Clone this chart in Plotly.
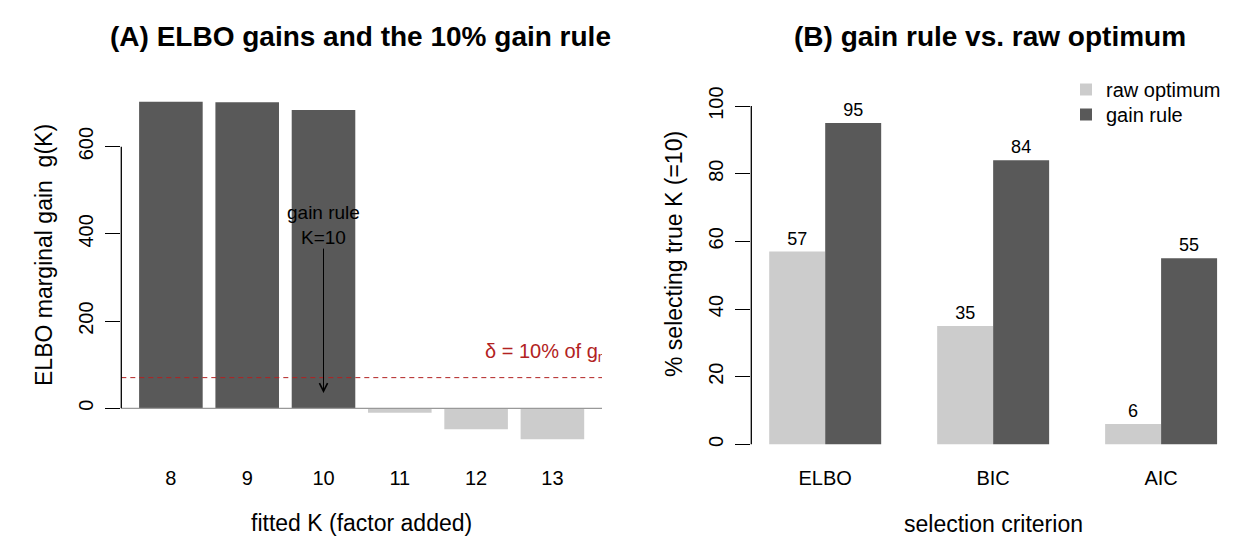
import plotly.graph_objects as go

# ---------------- data ----------------
K_values = [8, 9, 10, 11, 12, 13]
elbo_gain = [703, 702, 684, -10, -48, -71]
gain_rule_K = 10
arrow_from, arrow_to = 420, 35

criteria = ["ELBO", "BIC", "AIC"]
raw_optimum = [57, 35, 6]
gain_rule = [95, 84, 55]
series_names = ["raw optimum", "gain rule"]

# ---------------- styling ----------------
W, H = 1260, 560
FONT = "Liberation Sans, Arial, Helvetica, sans-serif"
DARK = "#595959"
LIGHT = "#CCCCCC"
RED = "#B22222"

def fx(p):
    return p / W

def fy(p):
    return 1 - p / H

delta = 0.1 * max(elbo_gain)

# bar positions (barplot style: width 1, space 0.2)
xa = [0.7 + 1.2 * i for i in range(len(K_values))]
colA = [DARK if g > delta else LIGHT for g in elbo_gain]
arrow_x = xa[K_values.index(gain_rule_K)]

# grouped (beside) bars, space c(0,1)
x_raw = [1.5 + 3 * i for i in range(len(criteria))]
x_gain = [2.5 + 3 * i for i in range(len(criteria))]
x_grp = [2 + 3 * i for i in range(len(criteria))]

fig = go.Figure()

fig.add_trace(go.Bar(x=xa, y=elbo_gain, width=1, marker=dict(color=colA, line=dict(width=0)),
                     xaxis="x", yaxis="y", showlegend=False, hoverinfo="skip"))

# delta label (clipped to plot region like the original)
fig.add_trace(go.Scatter(x=[5.64], y=[127], mode="text",
                         text=["δ = 10% of g<sub>max</sub>"], textposition="middle right",
                         textfont=dict(family=FONT, size=20, color=RED),
                         cliponaxis=True, xaxis="x", yaxis="y", showlegend=False, hoverinfo="skip"))

fig.add_trace(go.Bar(x=x_raw, y=raw_optimum, width=1, name=series_names[0],
                     marker=dict(color=LIGHT, line=dict(width=0)),
                     text=[str(v) for v in raw_optimum], textposition="outside",
                     textfont=dict(family=FONT, size=18, color="black"), cliponaxis=False,
                     xaxis="x2", yaxis="y2", hoverinfo="skip", legend="legend"))
fig.add_trace(go.Bar(x=x_gain, y=gain_rule, width=1, name=series_names[1],
                     marker=dict(color=DARK, line=dict(width=0)),
                     text=[str(v) for v in gain_rule], textposition="outside",
                     textfont=dict(family=FONT, size=18, color="black"), cliponaxis=False,
                     xaxis="x2", yaxis="y2", hoverinfo="skip", legend="legend2"))

dom_y = [fy(455), fy(53.3)]
axis_common = dict(showgrid=False, zeroline=False, showline=False,
                   tickfont=dict(family=FONT, size=20, color="black"))
legend_common = dict(xanchor="left", yanchor="top", bgcolor="rgba(0,0,0,0)", borderwidth=0,
                     font=dict(family=FONT, size=20, color="black"), itemwidth=30)

fig.update_layout(
    width=W, height=H,
    margin=dict(l=0, r=0, t=0, b=0),
    paper_bgcolor="white", plot_bgcolor="white",
    barmode="overlay",
    font=dict(family=FONT, color="black"),
    xaxis=dict(domain=[fx(121.3), fx(602)], range=[-0.08, 7.48],
               tickvals=xa, ticktext=[str(k) for k in K_values], ticks="",
               ticklabelstandoff=9, anchor="y", **axis_common),
    yaxis=dict(domain=dom_y, range=[-107.1, 814.0], tickvals=[0, 200, 400, 600],
               ticks="outside", ticklen=15, tickcolor="black", tickwidth=1,
               tickangle=-90, ticklabelstandoff=4, anchor="x", **axis_common),
    xaxis2=dict(domain=[fx(751.3), fx(1235)], range=[0.68, 9.32],
                tickvals=x_grp, ticktext=criteria, ticks="",
                ticklabelstandoff=9, anchor="y2", **axis_common),
    yaxis2=dict(domain=dom_y, range=[-3.16, 115.6], tickvals=[0, 20, 40, 60, 80, 100],
                ticks="outside", ticklen=15, tickcolor="black", tickwidth=1,
                tickangle=-90, ticklabelstandoff=4, anchor="x2", **axis_common),
    legend=dict(x=fx(1066), y=fy(70), **legend_common),
    legend2=dict(x=fx(1066), y=fy(95), **legend_common),
    showlegend=True,
)

shapes = [
    # zero reference line panel A
    dict(type="line", xref="x domain", yref="y", x0=0, x1=1, y0=0, y1=0,
         line=dict(color="#999999", width=1.2), layer="above"),
    # delta dashed line
    dict(type="line", xref="x domain", yref="y", x0=0, x1=1, y0=delta, y1=delta,
         line=dict(color=RED, width=1, dash="5px,4px"), layer="above"),
    # y axis lines (only over tick range)
    dict(type="line", xref="x domain", yref="y", x0=0, x1=0, y0=0, y1=600,
         line=dict(color="black", width=1.3)),
    dict(type="line", xref="x2 domain", yref="y2", x0=0, x1=0, y0=0, y1=100,
         line=dict(color="black", width=1.3)),
]
fig.update_layout(shapes=shapes)

ann = [
    dict(text="<b>(A) ELBO gains and the 10% gain rule</b>", xref="paper", yref="paper",
         x=fx(360), y=fy(37), showarrow=False, xanchor="center", yanchor="middle",
         font=dict(family=FONT, size=28, color="black")),
    dict(text="<b>(B) gain rule vs. raw optimum</b>", xref="paper", yref="paper",
         x=fx(990), y=fy(37), showarrow=False, xanchor="center", yanchor="middle",
         font=dict(family=FONT, size=28, color="black")),
    dict(text="fitted K (factor added)", xref="paper", yref="paper",
         x=fx(361), y=fy(523), showarrow=False, xanchor="center", yanchor="middle",
         font=dict(family=FONT, size=23, color="black")),
    dict(text="selection criterion", xref="paper", yref="paper",
         x=fx(993), y=fy(524), showarrow=False, xanchor="center", yanchor="middle",
         font=dict(family=FONT, size=23, color="black")),
    dict(text="ELBO marginal gain  g(K)", xref="paper", yref="paper",
         x=fx(44), y=fy(255), showarrow=False, xanchor="center", yanchor="middle",
         textangle=-90, font=dict(family=FONT, size=23, color="black")),
    dict(text="% selecting true K (=10)", xref="paper", yref="paper",
         x=fx(674), y=fy(254), showarrow=False, xanchor="center", yanchor="middle",
         textangle=-90, font=dict(family=FONT, size=23, color="black")),
    # label with arrow pointing down to the selected K
    dict(text=f"gain rule<br>K={gain_rule_K}", x=arrow_x, y=arrow_to,
         ax=arrow_x, ay=arrow_from, xref="x", yref="y", axref="x", ayref="y",
         showarrow=True, arrowhead=5, arrowsize=1.6, arrowwidth=1, arrowcolor="black",
         borderpad=0, font=dict(family=FONT, size=19, color="black")),
]
fig.update_layout(annotations=ann)

fig.write_html("out.html")
